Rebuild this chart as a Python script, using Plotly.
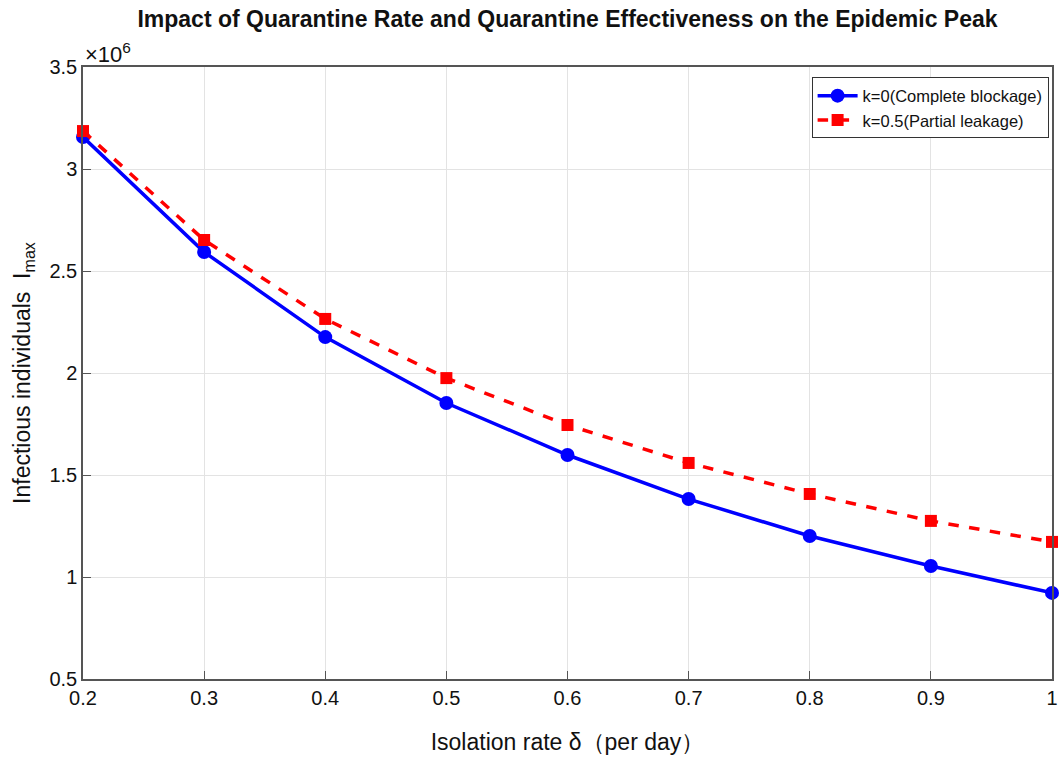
import plotly.graph_objects as go

# Data (Imax in units of 10^6)
delta = [0.2, 0.3, 0.4, 0.5, 0.6, 0.7, 0.8, 0.9, 1.0]
imax_k0 = [3.157, 2.593, 2.176, 1.853, 1.598, 1.382, 1.201, 1.054, 0.922]
imax_k05 = [3.186, 2.652, 2.265, 1.975, 1.745, 1.559, 1.407, 1.275, 1.172]
x_ticks = [0.2, 0.3, 0.4, 0.5, 0.6, 0.7, 0.8, 0.9, 1.0]
x_ticktext = ["0.2", "0.3", "0.4", "0.5", "0.6", "0.7", "0.8", "0.9", "1"]
y_ticks = [0.5, 1.0, 1.5, 2.0, 2.5, 3.0, 3.5]
y_ticktext = ["0.5", "1", "1.5", "2", "2.5", "3", "3.5"]

FONT = "Liberation Sans, Arial, Helvetica, sans-serif"

fig = go.Figure()
fig.add_trace(go.Scatter(
    x=delta, y=imax_k0, mode="lines+markers",
    name="k=0(Complete blockage)",
    line=dict(color="#0000FF", width=3.5),
    marker=dict(symbol="circle", size=14, color="#0000FF"),
    cliponaxis=False,
))
fig.add_trace(go.Scatter(
    x=delta, y=imax_k05, mode="lines+markers",
    name="k=0.5(Partial leakage)",
    line=dict(color="#FF0000", width=3.5, dash="dash"),
    marker=dict(symbol="square", size=12, color="#FF0000"),
    cliponaxis=False,
))

axis_common = dict(
    showgrid=True, gridcolor="#E3E3E3", gridwidth=1,
    showline=True, linecolor="#555555", linewidth=1.5, mirror=True,
    ticks="inside", ticklen=8, tickcolor="#555555", tickwidth=1,
    zeroline=False, automargin=False,
    tickfont=dict(family=FONT, size=20, color="#111111"),
)

fig.update_layout(
    width=1063, height=760,
    margin=dict(l=83, r=11, t=67, b=81, autoexpand=False),
    paper_bgcolor="white", plot_bgcolor="white",
    title=dict(
        text="<b>Impact of Quarantine Rate and Quarantine Effectiveness on the Epidemic Peak</b>",
        xref="paper", x=0.5, xanchor="center", y=0.975, yanchor="middle",
        font=dict(family=FONT, size=23, color="#111111"),
    ),
    xaxis=dict(
        range=[0.2, 1.0], tickvals=x_ticks, ticktext=x_ticktext,
        title=dict(text="Isolation rate δ（per day）", font=dict(family=FONT, size=23, color="#111111"), standoff=26),
        **axis_common,
    ),
    yaxis=dict(
        range=[0.5, 3.5], tickvals=y_ticks, ticktext=y_ticktext,
        title=dict(text="Infectious individuals  I<sub>max</sub>", font=dict(family=FONT, size=23, color="#111111"), standoff=12),
        **axis_common,
    ),
    legend=dict(
        x=0.9965, y=0.983, xanchor="right", yanchor="top",
        bgcolor="white", bordercolor="#333333", borderwidth=1,
        font=dict(family=FONT, size=16.5, color="#111111"),
        tracegroupgap=0, itemwidth=40,
    ),
    annotations=[dict(
        text="×10<sup>6</sup>", xref="paper", yref="paper",
        x=0.0, y=1.0, xanchor="left", yanchor="bottom", yshift=-2,
        showarrow=False, font=dict(family=FONT, size=22, color="#111111"),
    )],
)

fig.write_html("out.html")
